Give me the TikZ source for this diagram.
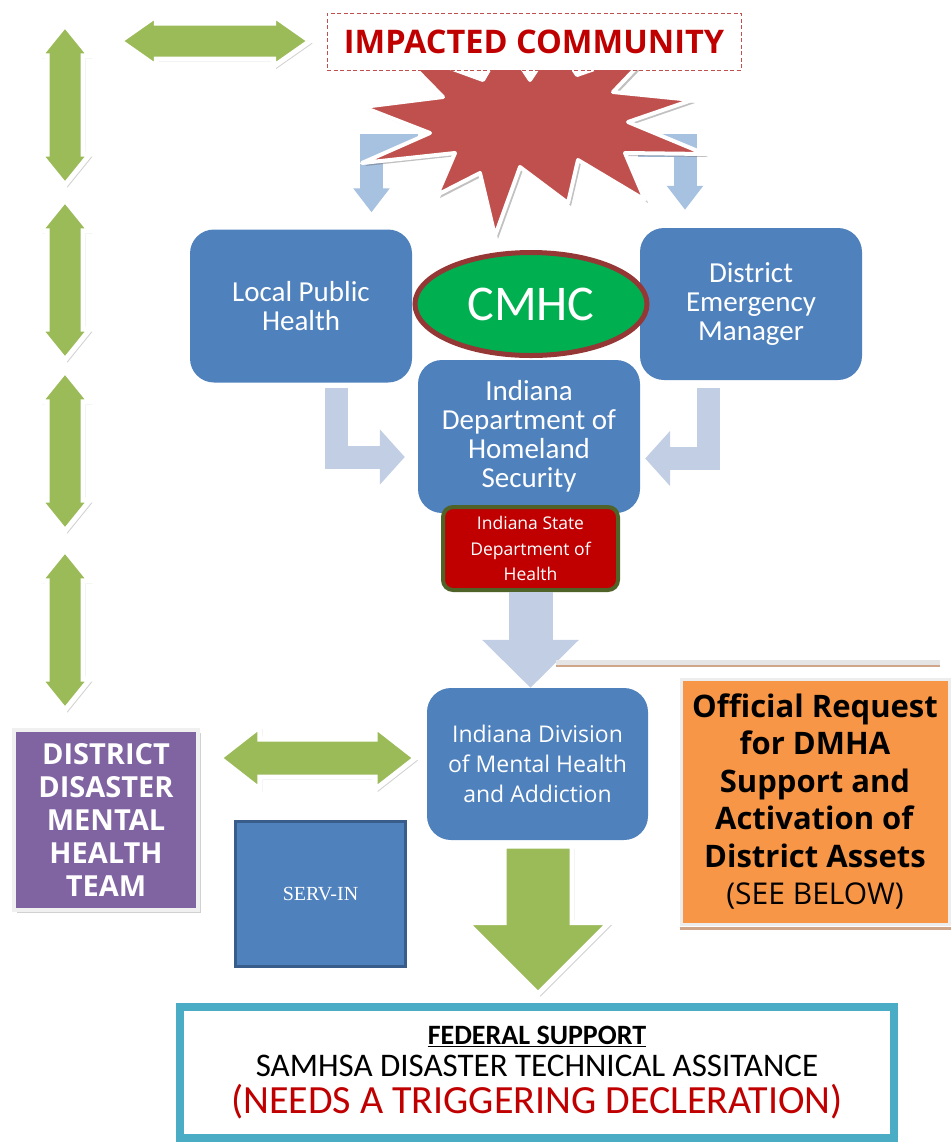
\documentclass[tikz,border=0pt]{standalone}
\usepackage{fontspec}
\setmainfont{Carlito}
\newfontfamily\segoe{Open Sans}
\newfontfamily\timesface{Liberation Serif}
\usetikzlibrary{shapes.geometric, shapes.arrows, arrows.meta, shadows, calc}

\definecolor{boxblue}{HTML}{4F81BD}
\definecolor{darkblue}{HTML}{385D8A}
\definecolor{cmhcgreen}{HTML}{00B050}
\definecolor{cmhcrim}{HTML}{953735}
\definecolor{isdhred}{HTML}{C00000}
\definecolor{isdhrim}{HTML}{4F6228}
\definecolor{teampurple}{HTML}{8064A2}
\definecolor{requestorange}{HTML}{F79646}
\definecolor{fedteal}{HTML}{4BACC6}
\definecolor{arrowgreen}{HTML}{9BBB59}
\definecolor{burstred}{HTML}{C0504D}
\definecolor{topblue}{RGB}{167,193,224}
\definecolor{paleblue}{RGB}{194,206,228}
\definecolor{tanline}{RGB}{208,166,138}
\definecolor{alertred}{HTML}{C00000}

\begin{document}
\begin{tikzpicture}[x=1pt, y=-1pt,
    bluebox/.style={fill=boxblue, rounded corners=24pt, minimum width=222pt, minimum height=153pt, text=white, align=center, font=\fontsize{29}{29}\selectfont},
    greenarrow/.style={shape=double arrow, fill=arrowgreen, draw=white, line width=5pt, inner xsep=0pt, inner ysep=15.5pt, double arrow head extend=7pt, drop shadow={shadow xshift=2.5pt, shadow yshift=-2.5pt, fill=black!60, opacity=0.3}},
    topbend/.style={draw=topblue, line width=23pt, line join=miter, -{Triangle[width=35pt,length=24pt]}},
    lowbend/.style={draw=paleblue, line width=23pt, line join=miter, -{Triangle[width=54pt,length=25pt]}}]
\useasboundingbox (0,0) rectangle (952,1144);

% Agencies at the top
\node[bluebox] (lph) at (301,306) {Local Public\\Health};
\node[bluebox, minimum height=152pt] (dem) at (751,304) {District\\Emergency\\Manager};

% Impact reaching both agencies
\coordinate (burstL) at (418,145);
\coordinate (burstR) at (638,145);
\draw[topbend] (burstL) -| ([xshift=70.5pt,yshift=17pt]lph.north);
\draw[topbend] (burstR) -| ([xshift=-66pt,yshift=18pt]dem.north);

\filldraw[fill=burstred, draw=white, line width=4pt, line join=round, drop shadow={shadow xshift=3pt, shadow yshift=-3pt, fill=black!70, opacity=0.35}]
    (363,107) -- (443,97) -- (395,48) -- (483,80) -- (505,42) -- (530,80) -- (555,42) -- (577,75)
    -- (655,48) -- (613,92) -- (692,100) -- (628,122) -- (705,154) -- (625,153) -- (645,200)
    -- (578,160) -- (568,203) -- (520,167) -- (495,236) -- (480,173) -- (437,195) -- (455,153)
    -- (362,163) -- (430,133) -- cycle;

\node[draw=burstred, dash pattern=on 4pt off 2.5pt, line width=0.8pt, fill=white, minimum width=414pt, minimum height=57pt, text=alertred, font=\segoe\bfseries\fontsize{32.5}{34}\selectfont] (impact) at (534,41.5) {IMPACTED COMMUNITY};

% State level
\node[bluebox] (idhs) at (529,436.5) {Indiana\\Department of\\Homeland\\Security};
\node[ellipse, fill=cmhcgreen, draw=cmhcrim, line width=5pt, minimum width=232pt, minimum height=103pt, text=white, font=\fontsize{50}{50}\selectfont] (cmhc) at (531,304) {CMHC};
\node[fill=isdhred, draw=isdhrim, line width=4pt, rounded corners=10pt, minimum width=175pt, minimum height=83pt, text=white, align=center, font=\segoe\fontsize{17.5}{25.5}\selectfont] (isdh) at (530.5,548.5) {Indiana State\\Department of\\Health};

\draw[lowbend] ([xshift=35.5pt,yshift=-5pt]lph.south) |- ([xshift=-13pt,yshift=-20.5pt]idhs.west);
\draw[lowbend] ([xshift=-42.5pt,yshift=-8pt]dem.south) |- ([xshift=5pt,yshift=-22pt]idhs.east);

% Division and request
\node[bluebox, minimum width=221pt, minimum height=152pt, font=\segoe\fontsize{23}{30}\selectfont] (dmha) at (537.5,764) {Indiana Division\\of Mental Health\\and Addiction};
\draw[draw=paleblue, line width=44pt, -{Triangle[width=94pt,length=48pt]}] (isdh.south) -- (isdh.south |- dmha.north);

\draw[black!10, line width=5pt] (556,662) -- (940,662);
\draw[tanline, line width=2.5pt] (556,666) -- (940,666);

\node[fill=requestorange, draw=black!7, line width=3pt, minimum width=268pt, minimum height=245pt, align=center, font=\segoe\fontsize{31}{37.5}\selectfont] (request) at (815,801.5) {\textbf{Official Request}\\\textbf{for DMHA}\\\textbf{Support and}\\\textbf{Activation of}\\\textbf{District Assets}\\{\fontsize{30}{37.5}\selectfont(SEE BELOW)}};
\draw[tanline, line width=2.5pt] ([yshift=-3pt]request.south west) -- ([yshift=-3pt]request.south east);

% District team
\node[fill=teampurple, draw=black!6, line width=4pt, minimum width=184pt, minimum height=180pt, text=white, align=center, font=\segoe\bfseries\fontsize{29}{33}\selectfont, drop shadow={shadow xshift=3pt, shadow yshift=-3pt, fill=black!60, opacity=0.3}] (team) at (106,820) {DISTRICT\\DISASTER\\MENTAL\\HEALTH\\TEAM};
\node[fill=boxblue, draw=darkblue, line width=3pt, minimum width=170pt, minimum height=145pt, text=white, font=\timesface\fontsize{20}{24}\selectfont] (servin) at (320.5,894) {SERV-IN};

% Green links
\foreach \ypos/\arrowname in {105/link1, 280/link2, 451/link3, 630/link4}
    \node[greenarrow, rotate=90, minimum height=160pt, double arrow tip angle=78] (\arrowname) at (65,\ypos) {};
\node[greenarrow, minimum height=190pt, double arrow head extend=7.5pt, double arrow tip angle=70] (linkcom) at (215,41) {};
\node[greenarrow, minimum height=196pt, inner ysep=16.5pt, double arrow head extend=12.5pt, double arrow tip angle=76] (linkteam) at (317.5,758) {};
\node[greenarrow, shape=single arrow, rotate=-90, minimum height=148pt, inner ysep=31.5pt, single arrow head extend=37.5pt] (tofed) at (538,903) {};

% Federal level
\node[draw=fedteal, line width=6pt, fill=white, minimum width=716pt, minimum height=133pt, align=center, font=\fontsize{33}{32}\selectfont] (fed) at (537,1072.5) {{\bfseries\fontsize{28}{30}\selectfont\underline{FEDERAL SUPPORT}}\\SAMHSA DISASTER TECHNICAL ASSITANCE\\[5pt]{\color{alertred}\fontsize{40}{40}\selectfont (NEEDS A TRIGGERING DECLERATION)}};
\draw[fedteal, line width=1.5pt] ([shift={(7pt,7pt)}]fed.south west) rectangle ([shift={(-7pt,-7pt)}]fed.north east);
\end{tikzpicture}
\end{document}
